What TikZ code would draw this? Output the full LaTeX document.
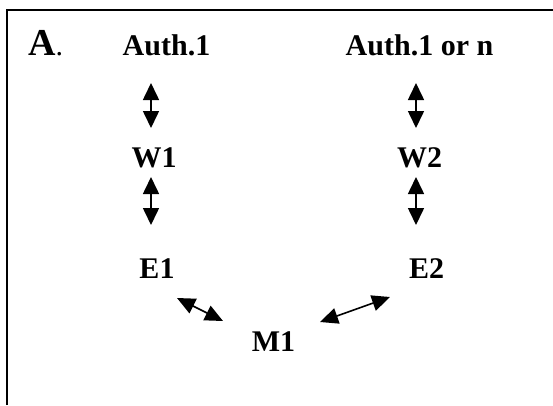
\documentclass[tikz,border=0pt]{standalone}
\usepackage{fontspec}
\setmainfont{Liberation Serif}
\usetikzlibrary{arrows.meta}
\tikzset{
  lbl/.style={inner sep=0pt, anchor=base, font=\fontsize{30}{34}\selectfont\bfseries},
  dbl/.style={line width=1.6pt, {Triangle[width=16pt,length=17pt]}-{Triangle[width=16pt,length=17pt]}},
  dbls/.style={line width=1.6pt, {Triangle[width=16pt,length=18pt]}-{Triangle[width=16pt,length=18pt]}},
  frame/.style={line width=2pt}
}
\begin{document}
\begin{tikzpicture}[x=1pt,y=-1pt]
\useasboundingbox (0,0) rectangle (553,405);
\coordinate (tl) at (7,9.5);
\coordinate (tr) at (553,9.5);
\coordinate (bl) at (7,405);
\draw[frame] (bl) -- (tl) -- (tr);
\node[inner sep=0pt, anchor=base west] (A) at (28,55) {\fontsize{38}{40}\selectfont\bfseries A\mdseries\fontsize{30}{34}\selectfont.};
\node[lbl] (auth1) at (166.5,55) {Auth.1};
\node[lbl] (authn) at (419.5,55) {Auth.1 or n};
\node[lbl] (w1) at (154,167) {W1};
\node[lbl] (w2) at (419.5,167) {W2};
\node[lbl] (e1) at (157,278) {E1};
\node[lbl] (e2) at (426.5,278) {E2};
\node[lbl] (m1) at (273.5,351) {M1};
\coordinate (a1t) at (151,83);
\coordinate (a1b) at (151,128);
\coordinate (a2t) at (151,177);
\coordinate (a2b) at (151,225);
\coordinate (b1t) at (416,83);
\coordinate (b1b) at (416,128);
\coordinate (b2t) at (416,177);
\coordinate (b2b) at (416,225);
\coordinate (c1) at (177,298);
\coordinate (c2) at (223,321);
\coordinate (d1) at (390,297);
\coordinate (d2) at (320,322);
\draw[dbl] (a1t) -- (a1b);
\draw[dbl] (a2t) -- (a2b);
\draw[dbl] (b1t) -- (b1b);
\draw[dbl] (b2t) -- (b2b);
\draw[dbls] (c1) -- (c2);
\draw[dbls] (d1) -- (d2);
\end{tikzpicture}
\end{document}
